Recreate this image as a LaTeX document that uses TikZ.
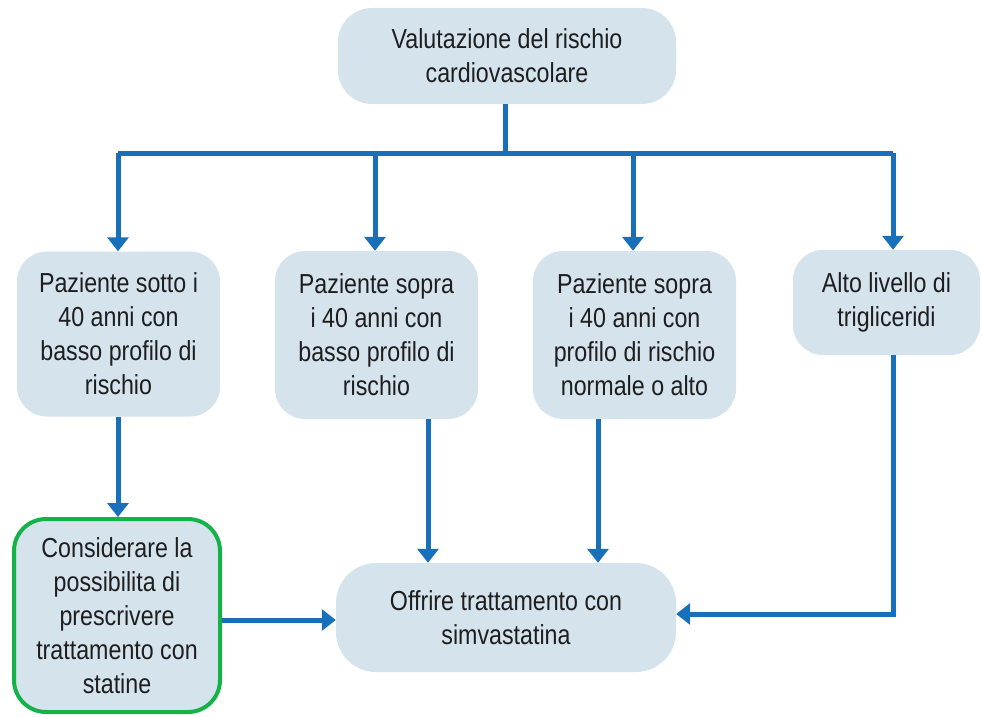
\documentclass[tikz,border=0pt]{standalone}
\usepackage{fontspec}
\setmainfont[FakeStretch=0.845]{Liberation Sans}
\usetikzlibrary{arrows.meta,calc}
\definecolor{boxfill}{RGB}{213,227,237}
\definecolor{linkblue}{RGB}{24,112,186}
\definecolor{greenedge}{RGB}{20,178,72}
\definecolor{txt}{RGB}{30,30,30}
\begin{document}
\begin{tikzpicture}[x=1pt,y=-1pt,
  box/.style={fill=boxfill, draw=none, align=center, text=txt,
    font=\fontsize{27.5}{34}\selectfont, inner sep=0pt},
  link/.style={draw=linkblue, line width=5pt,
    -{Triangle[width=21pt,length=14pt]}},
  plain/.style={draw=linkblue, line width=5pt}]
\useasboundingbox (0,0) rectangle (982,717);

\node[box, minimum width=338pt, minimum height=96pt, rounded corners=34pt] (top) at (507,56)
  {Valutazione del rischio\\cardiovascolare};

\node[box, minimum width=203pt, minimum height=165pt, rounded corners=30pt] (b1) at (118.5,334)
  {Paziente sotto i\\40 anni con\\basso profilo di\\rischio};
\node[box, minimum width=203pt, minimum height=168pt, rounded corners=30pt] (b2) at (376.5,335)
  {Paziente sopra\\i 40 anni con\\basso profilo di\\rischio};
\node[box, minimum width=203pt, minimum height=168pt, rounded corners=30pt] (b3) at (634.5,335)
  {Paziente sopra\\i 40 anni con\\profilo di rischio\\normale o alto};
\node[box, minimum width=187pt, minimum height=105pt, rounded corners=30pt] (b4) at (886.5,302.5)
  {Alto livello di\\trigliceridi};

\node[box, draw=greenedge, line width=4pt, minimum width=206pt, minimum height=193pt, rounded corners=32pt] (g) at (117,615.5)
  {Considerare la\\possibilita di\\prescrivere\\trattamento con\\statine};
\node[box, minimum width=340pt, minimum height=109pt, rounded corners=40pt] (off) at (506,617.5)
  {Offrire trattamento con\\simvastatina};

\coordinate (bar) at (505,153);
\draw[plain] (top.south -| bar) -- (bar);
\draw[plain] (118,153) -- (893,153);
\draw[link] (118,153) -- (b1.north -| 118,0);
\draw[link] (375,153) -- (b2.north -| 375,0);
\draw[link] (633,153) -- (b3.north -| 633,0);
\draw[link] (893,153) -- (b4.north -| 893,0);

\draw[link] (b1.south -| 118,0) -- (g.north -| 118,0);
\draw[link] (b2.south -| 428,0) -- (off.north -| 428,0);
\draw[link] (b3.south -| 598,0) -- (off.north -| 598,0);
\draw[link] (b4.south -| 893,0) -- (893,614) -- (off.east |- 0,614);
\draw[link] (g.east |- 0,620) -- (off.west |- 0,620);
\end{tikzpicture}
\end{document}
